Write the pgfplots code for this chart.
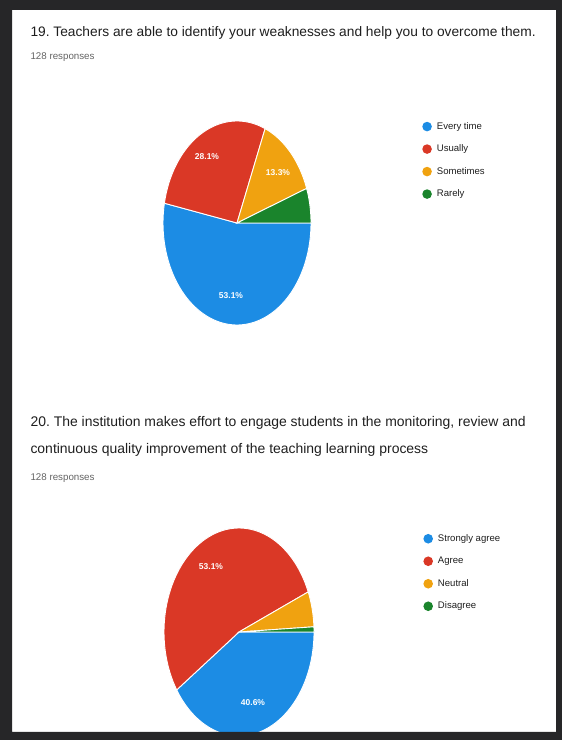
\documentclass[border=0pt]{standalone}
\usepackage{pgfplots}
\pgfplotsset{compat=1.18}
\usepackage{fontspec}
\setmainfont{Liberation Sans}
\frenchspacing
\definecolor{pblue}{RGB}{28,140,228}
\definecolor{pred}{RGB}{218,56,38}
\definecolor{porange}{RGB}{240,162,16}
\definecolor{pgreen}{RGB}{26,132,44}
\definecolor{framec}{RGB}{38,38,40}
\definecolor{ttl}{RGB}{30,30,30}
\definecolor{resp}{RGB}{100,100,100}
\pgfplotsset{
  pieaxis/.style={width=562bp,height=740bp,scale only axis,
    xmin=0,xmax=562,ymin=0,ymax=740,hide axis,clip=false,
    legend cell align=left,
    legend style={draw=none,fill=none,anchor=north west,
      font=\fontsize{9.6}{10}\selectfont,row sep=9.5bp,inner sep=0pt,
      nodes={inner sep=2bp,text height=7bp,text depth=2bp,text=ttl},
      /tikz/every odd column/.append style={column sep=3bp}},
    legend image code/.code={\fill[##1,draw=none] (4.5bp,0bp) circle (4.8bp);}},
  slice/.style={draw=white,line width=0.9bp,samples=70}
}
% pie slice: cx, cy, rx, ry, cumulative start %, cumulative end %, colour
\newcommand{\pieslice}[7]{%
  \addplot[slice,fill=#7,domain={-3.6*#6}:{-3.6*#5}]
    ({#1+#3*cos(x)},{#2+#4*sin(x)}) -- (axis cs:#1,#2) -- cycle;}
\begin{document}
\begin{tikzpicture}
\useasboundingbox (0,0) rectangle (562bp,740bp);
% ---------------- Question 19 ----------------
\begin{axis}[pieaxis,legend style={at={(0.751,0.838)}}]
  % Every time 53.1, Usually 28.1, Sometimes 13.3, Rarely 5.5
  \pieslice{237}{517}{74}{102}{0}{53.1}{pblue}
  \addlegendentry{Every time}
  \pieslice{237}{517}{74}{102}{53.1}{81.2}{pred}
  \addlegendentry{Usually}
  \pieslice{237}{517}{74}{102}{81.2}{94.5}{porange}
  \addlegendentry{Sometimes}
  \pieslice{237}{517}{74}{102}{94.5}{100}{pgreen}
  \addlegendentry{Rarely}
  \node[anchor=west,text=ttl,font=\fontsize{13.8}{15}\selectfont] at (axis cs:27,707)
    {19. Teachers are able to identify your weaknesses and help you to overcome them.};
  \node[anchor=west,text=resp,font=\fontsize{9.8}{11}\selectfont] at (axis cs:27,683) {128 responses};
  \node[text=white,font=\bfseries\fontsize{8.5}{9}\selectfont] at (axis cs:207,583) {28.1\%};
  \node[text=white,font=\bfseries\fontsize{8.5}{9}\selectfont] at (axis cs:278,567) {13.3\%};
  \node[text=white,font=\bfseries\fontsize{8.5}{9}\selectfont] at (axis cs:231,444) {53.1\%};
\end{axis}
% ---------------- Question 20 ----------------
\begin{axis}[pieaxis,legend style={at={(0.753,0.281)}}]
  % Strongly agree 40.6, Agree 53.1, Neutral 5.5, Disagree 0.8
  \pieslice{239}{108}{75}{104}{0}{40.6}{pblue}
  \addlegendentry{Strongly agree}
  \pieslice{239}{108}{75}{104}{40.6}{93.7}{pred}
  \addlegendentry{Agree}
  \pieslice{239}{108}{75}{104}{93.7}{99.2}{porange}
  \addlegendentry{Neutral}
  \pieslice{239}{108}{75}{104}{99.2}{100}{pgreen}
  \addlegendentry{Disagree}
  \node[anchor=west,text=ttl,font=\fontsize{14}{15}\selectfont] at (axis cs:27,317)
    {20. The institution makes effort to engage students in the monitoring, review and};
  \node[anchor=west,text=ttl,font=\fontsize{14}{15}\selectfont] at (axis cs:27,290)
    {continuous quality improvement of the teaching learning process};
  \node[anchor=west,text=resp,font=\fontsize{9.8}{11}\selectfont] at (axis cs:27,262) {128 responses};
  \node[text=white,font=\bfseries\fontsize{8.5}{9}\selectfont] at (axis cs:211,173) {53.1\%};
  \node[text=white,font=\bfseries\fontsize{8.5}{9}\selectfont] at (axis cs:253,37) {40.6\%};
\end{axis}
% photo frame around the page
\fill[framec,even odd rule] (0,0) rectangle (562bp,740bp) (12bp,8bp) rectangle (556bp,730bp);
\end{tikzpicture}
\end{document}
